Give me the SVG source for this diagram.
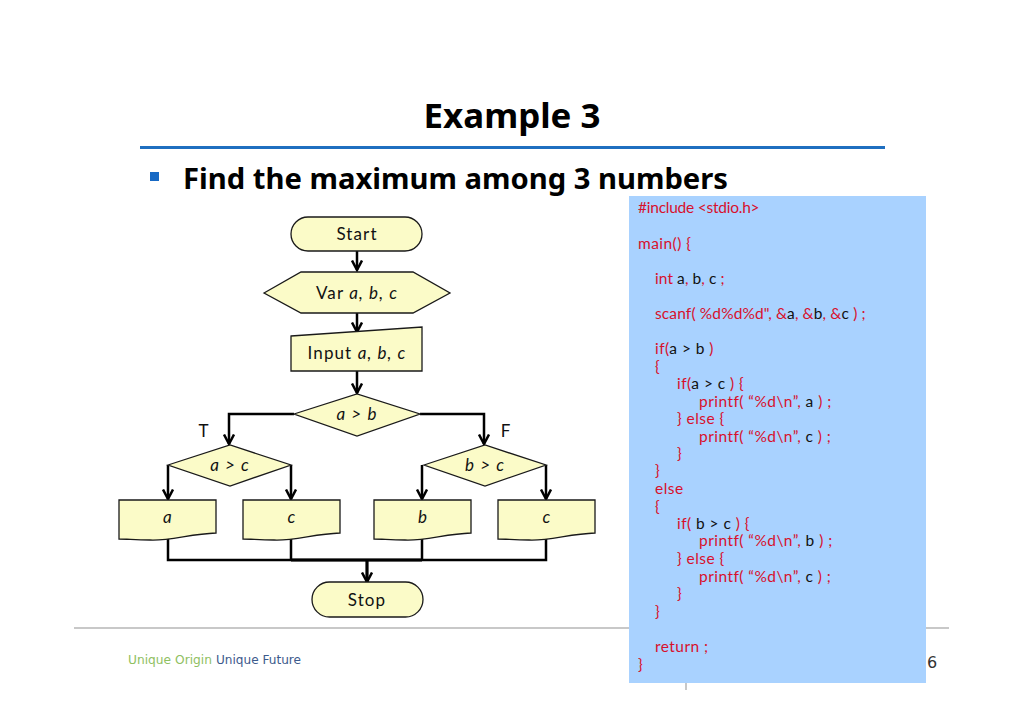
<svg xmlns="http://www.w3.org/2000/svg" width="1024" height="724" viewBox="0 0 1024 724">
<style>
.shape{fill:#fbfbc8;stroke:#1a1a1a;stroke-width:1.3}
.lbl{font-family:"Lato","Noto Sans",sans-serif;font-size:17px;letter-spacing:1.1px;fill:#111;text-anchor:middle}
.it{font-style:italic}
.code{font-family:"Lato","Noto Sans",sans-serif;font-size:15.5px;letter-spacing:.45px;fill:#d8102c}
.code tspan{fill:#111}
.conn{fill:none;stroke:#000;stroke-width:2.5}
</style>
<defs>
<marker id="arr" viewBox="0 0 12 12" refX="10.5" refY="6" markerWidth="12" markerHeight="12" markerUnits="userSpaceOnUse" orient="auto">
<path d="M1 1L10.5 6L1 11" fill="none" stroke="#000" stroke-width="2.5"/>
</marker>
</defs>
<rect width="1024" height="724" fill="#fff"/>
<text id="title" x="512" y="128" font-family="'Noto Sans',sans-serif" font-weight="700" font-size="34" text-anchor="middle" fill="#000" textLength="177" lengthAdjust="spacingAndGlyphs">Example 3</text>
<rect x="140" y="146" width="745" height="3" fill="#1f6fc0"/>
<rect x="150" y="172" width="9" height="9" fill="#1769c4"/>
<text id="subtitle" x="183" y="189" font-family="'Noto Sans',sans-serif" font-weight="700" font-size="28" fill="#000" textLength="545" lengthAdjust="spacingAndGlyphs">Find the maximum among 3 numbers</text>
<rect x="74" y="627" width="875" height="2" fill="#c8c8c8"/>
<rect x="685" y="682" width="2" height="8" fill="#c8c8c8"/>
<text x="128" y="664" font-family="'DejaVu Sans',sans-serif" font-size="12" fill="#8fc062" textLength="84" lengthAdjust="spacingAndGlyphs">Unique Origin</text>
<text x="216" y="664" font-family="'DejaVu Sans',sans-serif" font-size="12" fill="#3c5a8c" textLength="85" lengthAdjust="spacingAndGlyphs">Unique Future</text>
<text x="927" y="668" font-family="'DejaVu Sans',sans-serif" font-size="16" fill="#333">6</text>

<g id="connectors">
<path class="conn" d="M357 251V270" marker-end="url(#arr)"/>
<path class="conn" d="M357 313V332" marker-end="url(#arr)"/>
<path class="conn" d="M357 371V393" marker-end="url(#arr)"/>
<path class="conn" d="M294 414H229V444" marker-end="url(#arr)"/>
<path class="conn" d="M420 414H484V444" marker-end="url(#arr)"/>
<path class="conn" d="M168 465V499" marker-end="url(#arr)"/>
<path class="conn" d="M291 465V499" marker-end="url(#arr)"/>
<path class="conn" d="M422 465V499" marker-end="url(#arr)"/>
<path class="conn" d="M546 465V499" marker-end="url(#arr)"/>
<path class="conn" d="M168 538V560H546V538"/>
<path class="conn" d="M291 538V560M422 538V560"/>
<path class="conn" d="M291 560H422" style="stroke-width:3.2"/>
<path class="conn" d="M367 560V582" style="stroke-width:3.2" marker-end="url(#arr)"/>
</g>

<g id="start"><rect class="shape" x="291" y="217" width="131" height="34" rx="17"/><text class="lbl" x="357" y="240">Start</text></g>
<g id="var"><path class="shape" d="M264 293L301 272H413L450 293L413 313H301Z"/><text class="lbl" x="357" y="299">Var <tspan class="it">a, b, c</tspan></text></g>
<g id="input"><path class="shape" d="M291 336L422 327V371H291Z"/><text class="lbl" x="357" y="359">Input <tspan class="it">a, b, c</tspan></text></g>
<g id="ab"><path class="shape" d="M294 414L357 394L420 414L357 436Z"/><text class="lbl it" x="357" y="420">a &gt; b</text></g>
<g id="ac"><path class="shape" d="M168 465L230 445L291 465L230 486Z"/><text class="lbl it" x="230" y="471">a &gt; c</text></g>
<g id="bc"><path class="shape" d="M424 465L485 445L546 465L485 486Z"/><text class="lbl it" x="485" y="471">b &gt; c</text></g>
<g id="oa"><path class="shape" d="M119 500H216V533C190 534 170 541 150 540C135 540 128 539 119 539Z"/><text class="lbl it" x="168" y="523">a</text></g>
<g id="oc1"><path class="shape" d="M243 500H340V533C314 534 294 541 274 540C259 540 252 539 243 539Z"/><text class="lbl it" x="292" y="523">c</text></g>
<g id="ob"><path class="shape" d="M374 500H471V533C445 534 425 541 405 540C390 540 383 539 374 539Z"/><text class="lbl it" x="423" y="523">b</text></g>
<g id="oc2"><path class="shape" d="M498 500H595V533C569 534 549 541 529 540C514 540 507 539 498 539Z"/><text class="lbl it" x="547" y="523">c</text></g>
<g id="stop"><rect class="shape" x="312" y="582" width="111" height="35" rx="17.5"/><text class="lbl" x="367" y="606">Stop</text></g>
<text class="lbl" x="204" y="437">T</text>
<text class="lbl" x="506" y="437">F</text>

<g id="code">
<rect x="629" y="196" width="297" height="487" fill="#a9d2ff"/>
<g class="code">
<text x="638" y="213" textLength="122">#include &lt;stdio.h&gt;</text>
<text x="638" y="249">main() {</text>
<text x="655" y="284" textLength="70">int <tspan>a</tspan>, <tspan>b</tspan>, <tspan>c</tspan> ;</text>
<text x="655" y="319" textLength="211">scanf( %d%d%d", &amp;<tspan>a</tspan>, &amp;<tspan>b</tspan>, &amp;<tspan>c</tspan> ) ;</text>
<text x="655" y="354">if(<tspan>a &gt; b</tspan> )</text>
<text x="655" y="372">{</text>
<text x="677" y="389">if(<tspan>a &gt; c</tspan> ) {</text>
<text x="699" y="407">printf( “%d\n”, <tspan>a</tspan> ) ;</text>
<text x="677" y="424">} else {</text>
<text x="699" y="442">printf( “%d\n”, <tspan>c</tspan> ) ;</text>
<text x="677" y="459">}</text>
<text x="655" y="476">}</text>
<text x="655" y="494">else</text>
<text x="655" y="512">{</text>
<text x="677" y="529">if( <tspan>b &gt; c</tspan> ) {</text>
<text x="699" y="546">printf( “%d\n”, <tspan>b</tspan> ) ;</text>
<text x="677" y="564">} else {</text>
<text x="699" y="582">printf( “%d\n”, <tspan>c</tspan> ) ;</text>
<text x="677" y="599">}</text>
<text x="655" y="617">}</text>
<text x="655" y="652">return ;</text>
<text x="638" y="670">}</text>
</g>
</g>
</svg>
